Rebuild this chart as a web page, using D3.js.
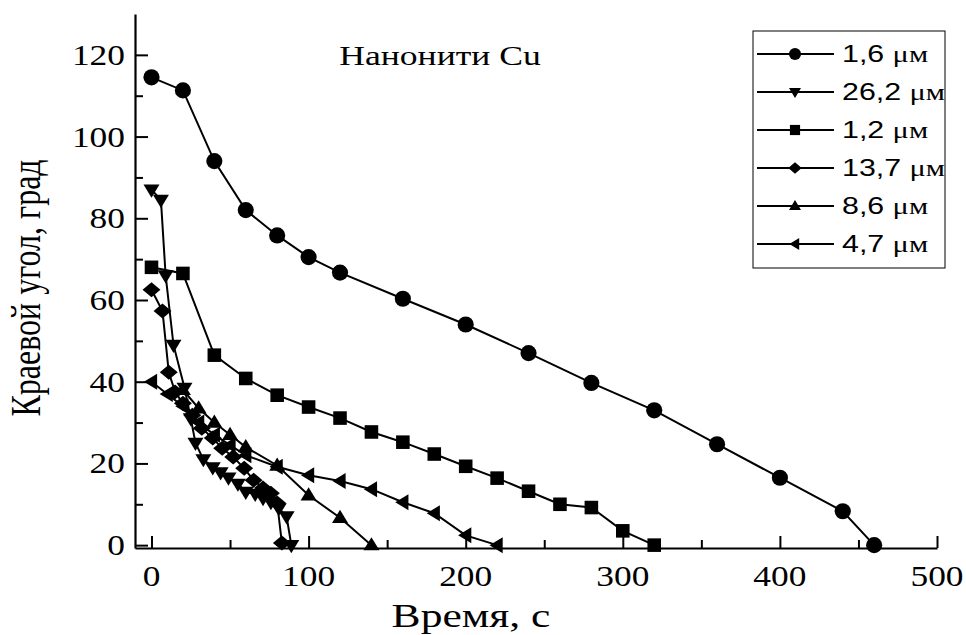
<!DOCTYPE html>
<html>
<head>
<meta charset="utf-8">
<script src="https://cdn.jsdelivr.net/npm/d3@7"></script>
<style>
  body { margin: 0; background: #fff; }
  svg { display: block; }
  .serif { font-family: "Liberation Serif", "DejaVu Serif", serif; }
  .sans { font-family: "Liberation Sans", Arial, sans-serif; }
</style>
</head>
<body>
<svg id="chart" width="966" height="635"></svg>
<script>
// series data: [time, angle]
const s16 = [[0,114.5],[20,111.3],[40,94],[60,82],[80,75.8],[100,70.5],[120,66.7],[160,60.3],[200,54],[240,47],[280,39.7],[320,33],[360,24.7],[400,16.5],[440,8.3],[460,0]];
const s262 = [[0,87],[6,84.5],[9,66],[14,49],[21,38.5],[25,31],[28,25],[33,21],[39,19],[44,17.8],[49,16.5],[55,15],[60,13],[66,12.5],[71,11.5],[76,10.5],[81,9],[86,7],[89,0]];
const s12 = [[0,68],[20,66.5],[40,46.5],[60,40.8],[80,36.7],[100,33.8],[120,31.1],[140,27.7],[160,25.2],[180,22.3],[200,19.3],[220,16.4],[240,13.2],[260,10],[280,9.2],[300,3.5],[320,0]];
const s137 = [[0,62.5],[7,57.3],[11,42.3],[15,37.5],[20,34.7],[26,31.8],[32,28.6],[39,26.2],[45,23.7],[52,21.6],[59,18.8],[65,15.9],[71,14],[76,12.7],[80,10.3],[83,0.5]];
const s86 = [[20,38],[30,33.5],[40,30],[50,27],[60,24],[80,19.5],[100,12.2],[120,6.7],[140,0]];
const s47 = [[0,40],[10,37],[20,34],[30,30],[40,27],[50,24.5],[60,22],[80,19.2],[100,17.1],[120,15.7],[140,13.7],[160,10.5],[180,7.8],[200,2.4],[220,0]];

const seriesNames = ["1,6", "26,2", "1,2", "13,7", "8,6", "4,7"];
const seriesData = [s16, s262, s12, s137, s86, s47];
const seriesSymbols = ["circle", "down", "square", "diamond", "up", "left"];

const xTicks = [0, 100, 200, 300, 400, 500];
const yTicks = [0, 20, 40, 60, 80, 100, 120];

let svg = d3.select("#chart");

let xScale = d3.scaleLinear().domain([-10.5, 500]).range([135, 937]);
let yScale = d3.scaleLinear().domain([-0.7, 130]).range([548, 14]);

// the original picture is stretched sideways, so text gets widened too
const stretch = 1.32;
const tickStretch = 1.18;

// marker path generator, centered at 0,0
function markerPath(type, s) {
    if (type === "circle") return d3.symbol().type(d3.symbolCircle).size(s * s * 0.8)();
    if (type === "square") return d3.symbol().type(d3.symbolSquare).size(s * s * 0.72)();
    if (type === "diamond") return `M0,${-s * 0.47}L${s * 0.56},0L0,${s * 0.47}L${-s * 0.56},0Z`;
    let a = s * 0.5;
    if (type === "down") return `M${-a},${-a * 0.65}L${a},${-a * 0.65}L0,${a}Z`;
    if (type === "up") return `M${-a},${a * 0.65}L${a},${a * 0.65}L0,${-a}Z`;
    if (type === "left") return `M${a * 0.7},${-a}L${a * 0.7},${a}L${-a * 0.95},0Z`;
}

// axes
let xAxis = d3.axisBottom(xScale).tickValues(d3.range(0, 501, 50)).tickSize(0).tickFormat("");
let yAxis = d3.axisLeft(yScale).tickValues(d3.range(0, 121, 10)).tickSize(0).tickFormat("");

let gx = svg.append("g").attr("transform", `translate(0,${yScale(-0.7)})`).call(xAxis);
let gy = svg.append("g").attr("transform", `translate(${xScale(-10.5)},0)`).call(yAxis);
[gx, gy].forEach(g => g.select(".domain").attr("stroke", "#000").attr("stroke-width", 2.2));

// inward ticks
gx.selectAll(".tick line").attr("stroke", "#000").attr("stroke-width", 2)
    .attr("y2", d => d % 100 === 0 ? -12 : -8);
gy.selectAll(".tick line").attr("stroke", "#000").attr("stroke-width", 2)
    .attr("x2", d => d % 20 === 0 ? 13 : 8);

// tick labels
svg.append("g").selectAll("text").data(xTicks).enter().append("text")
    .attr("class", "serif")
    .attr("transform", d => `translate(${xScale(d)},586) scale(${tickStretch},1)`)
    .attr("text-anchor", "middle").style("font-size", "30px")
    .text(d => d);
svg.append("g").selectAll("text").data(yTicks).enter().append("text")
    .attr("class", "serif")
    .attr("transform", d => `translate(125,${yScale(d) + 10}) scale(${tickStretch},1)`)
    .attr("text-anchor", "end").style("font-size", "30px")
    .text(d => d);

// axis titles
svg.append("text").text("Время, с").attr("class", "serif")
    .attr("transform", `translate(471,627) scale(${stretch},1)`).attr("text-anchor", "middle")
    .style("font-size", "33px");
svg.append("text").text("Краевой угол, град").attr("class", "serif")
    .attr("transform", `translate(40,288) scale(${stretch},1) rotate(-90)`).attr("text-anchor", "middle")
    .style("font-size", "32px");

svg.append("text").text("Нанонити Cu").attr("class", "serif")
    .attr("transform", `translate(440,65) scale(${stretch},1)`).attr("text-anchor", "middle")
    .style("font-size", "27px");

// lines and markers
let line = d3.line().x(d => xScale(d[0])).y(d => yScale(d[1]));

seriesData.forEach((data, i) => {
    svg.append("path").datum(data).attr("d", line)
        .attr("fill", "none").attr("stroke", "#000").attr("stroke-width", 2);
    svg.append("g").selectAll("path").data(data).enter().append("path")
        .attr("d", markerPath(seriesSymbols[i], 16))
        .attr("transform", d => `translate(${xScale(d[0])},${yScale(d[1])})`)
        .attr("fill", "#000");
});

// legend
let legend = svg.append("g");
legend.append("rect").attr("x", 753).attr("y", 31).attr("width", 192).attr("height", 237)
    .attr("fill", "#fff").attr("stroke", "#000").attr("stroke-width", 1);

seriesNames.forEach((name, i) => {
    let y = 54 + i * 38;
    legend.append("line").attr("x1", 757).attr("x2", 834).attr("y1", y).attr("y2", y)
        .attr("stroke", "#000").attr("stroke-width", 2);
    legend.append("path").attr("d", markerPath(seriesSymbols[i], 12))
        .attr("transform", `translate(795,${y})`).attr("fill", "#000");
    let t = legend.append("text").attr("class", "sans")
        .attr("transform", `translate(842,${y + 8}) scale(${stretch},1)`)
        .style("font-size", "23px").text(name + " ");
    t.append("tspan").attr("class", "serif").text("μм");
});
</script>
</body>
</html>
